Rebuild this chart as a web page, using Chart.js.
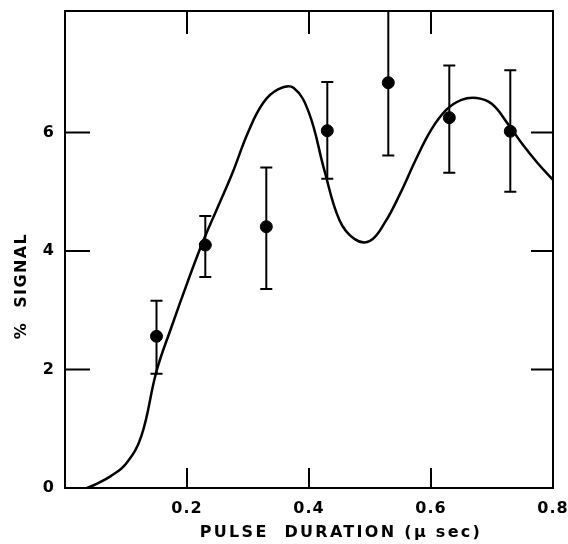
<!DOCTYPE html>
<html>
<head>
<meta charset="utf-8">
<script src="https://cdn.jsdelivr.net/npm/chart.js@4/dist/chart.umd.min.js"></script>
<style>
  body { margin: 0; background: #fff; }
  canvas { display: block; }
</style>
</head>
<body>
<canvas id="chart" width="568" height="544"></canvas>
<script>
// Fitted curve
var curveX = [0.036, 0.05, 0.075, 0.1, 0.125, 0.15, 0.175, 0.2, 0.225, 0.25, 0.275, 0.3, 0.325, 0.35, 0.375, 0.4, 0.425, 0.45, 0.475, 0.5, 0.525, 0.55, 0.575, 0.6, 0.625, 0.65, 0.675, 0.7, 0.725, 0.75, 0.775, 0.8];
var curveY = [0, 0.06, 0.2, 0.41, 0.87, 1.97, 2.73, 3.45, 4.13, 4.73, 5.33, 6.0, 6.5, 6.73, 6.75, 6.33, 5.37, 4.52, 4.2, 4.17, 4.49, 4.98, 5.54, 6.04, 6.38, 6.55, 6.58, 6.48, 6.16, 5.8, 5.48, 5.2];

// Measured points with error bars
var pointX = [0.15, 0.23, 0.33, 0.43, 0.53, 0.63, 0.73];
var pointY = [2.56, 4.10, 4.41, 6.03, 6.84, 6.25, 6.02];
var errLow = [1.93, 3.56, 3.36, 5.22, 5.61, 5.32, 5.00];
var errHigh = [3.16, 4.59, 5.41, 6.85, 8.05, 7.13, 7.05];

// Tick labels and axis titles
var xTicks = [0.2, 0.4, 0.6, 0.8];
var yTicks = [0, 2, 4, 6];
var xTitle = 'PULSE  DURATION (\u03bc sec)';
var yTitle = '%  SIGNAL';

var FONT = "'DejaVu Sans', 'Liberation Sans', sans-serif";

function toXY(xs, ys) {
    return xs.map(function(x, i) { return {x: x, y: ys[i]}; });
}

// a little letter spacing like the old lettering guide
var spacingPlugin = {
    id: 'spacing',
    beforeDraw: function(chart) {
        chart.ctx.letterSpacing = '1px';
    }
};

// frame with inward ticks on all four sides, plus axis titles
var framePlugin = {
    id: 'frame',
    afterDraw: function(chart) {
        var ctx = chart.ctx;
        var a = chart.chartArea;
        var xs = chart.scales.x, ys = chart.scales.y;
        ctx.save();
        ctx.strokeStyle = '#000';
        ctx.lineWidth = 2;
        ctx.strokeRect(a.left, a.top, a.right - a.left, a.bottom - a.top);
        ctx.beginPath();
        [0.2, 0.4, 0.6].forEach(function(v) {
            var px = xs.getPixelForValue(v);
            ctx.moveTo(px, a.bottom); ctx.lineTo(px, a.bottom - 20);
            ctx.moveTo(px, a.top); ctx.lineTo(px, a.top + 23);
        });
        [2, 4, 6].forEach(function(v) {
            var py = ys.getPixelForValue(v);
            ctx.moveTo(a.left, py); ctx.lineTo(a.left + 25, py);
            ctx.moveTo(a.right, py); ctx.lineTo(a.right - 22, py);
        });
        ctx.stroke();

        ctx.fillStyle = '#000';
        ctx.font = 'bold 16px ' + FONT;
        ctx.textAlign = 'center';
        ctx.textBaseline = 'middle';
        ctx.letterSpacing = '2.3px';
        ctx.fillText(xTitle, 341, 533);
        ctx.translate(22, 286);
        ctx.rotate(-Math.PI / 2);
        ctx.letterSpacing = '1.4px';
        ctx.fillText(yTitle, 0, 0);
        ctx.restore();
    }
};

// vertical error bars with caps
var errorBarPlugin = {
    id: 'errorBars',
    afterDatasetsDraw: function(chart) {
        var ctx = chart.ctx;
        var xs = chart.scales.x, ys = chart.scales.y;
        ctx.save();
        ctx.strokeStyle = '#000';
        ctx.lineWidth = 2;
        ctx.beginPath();
        for (var i = 0; i < pointX.length; i++) {
            var px = xs.getPixelForValue(pointX[i]);
            var lo = ys.getPixelForValue(errLow[i]);
            var hi = ys.getPixelForValue(errHigh[i]);
            ctx.moveTo(px, lo); ctx.lineTo(px, hi);
            ctx.moveTo(px - 6, lo); ctx.lineTo(px + 6, lo);
            ctx.moveTo(px - 6, hi); ctx.lineTo(px + 6, hi);
        }
        ctx.stroke();
        ctx.restore();
    }
};

new Chart(document.getElementById('chart'), {
    type: 'scatter',
    data: {
        datasets: [{
            type: 'line',
            data: toXY(curveX, curveY),
            borderColor: '#000',
            borderWidth: 2.5,
            pointRadius: 0,
            tension: 0.4,
            fill: false
        }, {
            data: toXY(pointX, pointY),
            backgroundColor: '#000',
            borderColor: '#000',
            pointRadius: 6,
            pointHoverRadius: 6
        }]
    },
    options: {
        responsive: false,
        animation: false,
        layout: { padding: { left: 0, right: 15, top: 11, bottom: 0 } },
        plugins: {
            legend: { display: false },
            tooltip: { enabled: false }
        },
        scales: {
            x: {
                type: 'linear',
                min: 0,
                max: 0.8,
                grid: { display: false, drawTicks: false },
                border: { display: false },
                afterBuildTicks: function(scale) {
                    scale.ticks = xTicks.map(function(v) { return {value: v}; });
                },
                afterFit: function(scale) {
                    scale.height = 56;
                    scale.paddingLeft = 0;
                    scale.paddingRight = 0;
                },
                ticks: {
                    color: '#000',
                    padding: 11,
                    maxRotation: 0,
                    font: { family: FONT, size: 16, weight: 'bold' },
                    callback: function(v) { return v.toFixed(1); }
                }
            },
            y: {
                min: 0,
                max: 8.05,
                grid: { display: false, drawTicks: false },
                border: { display: false },
                afterBuildTicks: function(scale) {
                    scale.ticks = yTicks.map(function(v) { return {value: v}; });
                },
                afterFit: function(scale) {
                    scale.width = 65;
                    scale.paddingTop = 0;
                    scale.paddingBottom = 0;
                },
                ticks: {
                    color: '#000',
                    padding: 10,
                    font: { family: FONT, size: 16, weight: 'bold' },
                    callback: function(v) { return String(v); }
                }
            }
        }
    },
    plugins: [spacingPlugin, framePlugin, errorBarPlugin]
});
</script>
</body>
</html>
